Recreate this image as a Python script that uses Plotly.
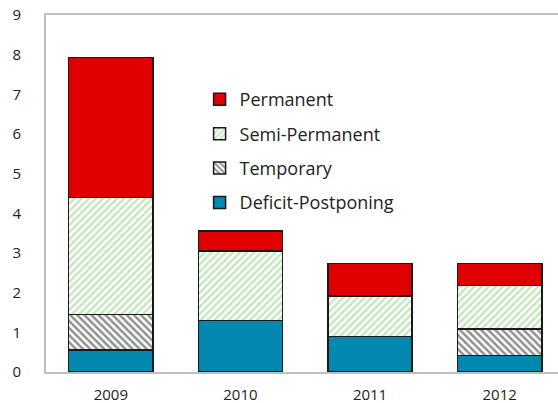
import plotly.graph_objects as go

years = ["2009", "2010", "2011", "2012"]
deficit_postponing = [0.55, 1.30, 0.90, 0.42]
temporary = [0.90, 0.00, 0.00, 0.66]
semi_permanent = [2.95, 1.75, 1.02, 1.10]
permanent = [3.53, 0.50, 0.81, 0.55]

font = "Open Sans, Noto Sans, DejaVu Sans, sans-serif"
outline = dict(color="#1a1a1a", width=1.5)

fig = go.Figure()
fig.add_bar(x=years, y=deficit_postponing, name="Deficit-Postponing", legendrank=4,
            legendgroup="d", marker=dict(color="#0088AE", line=outline))
fig.add_bar(x=years, y=temporary, name="Temporary", legendrank=3, legendgroup="t",
            marker=dict(color="white", line=outline,
                        pattern=dict(shape="\\", fgcolor="#222222", bgcolor="white",
                                     size=5, solidity=0.5)))
fig.add_bar(x=years, y=semi_permanent, name="Semi-Permanent", legendrank=2, legendgroup="s",
            marker=dict(color="white", line=outline,
                        pattern=dict(shape="/", fgcolor="#93CC82", bgcolor="white",
                                     size=5, solidity=0.5)))
fig.add_bar(x=years, y=permanent, name="Permanent", legendrank=1, legendgroup="p",
            marker=dict(color="#E00000", line=outline))

fig.update_layout(
    barmode="stack",
    bargap=0.35,
    width=558, height=403,
    margin=dict(l=46, r=0, t=15, b=31),
    plot_bgcolor="white", paper_bgcolor="white",
    font=dict(family=font, size=15, color="#222222"),
    legend=dict(x=0.3, y=0.815, xanchor="left", yanchor="top",
                traceorder="grouped", tracegroupgap=8,
                bgcolor="rgba(0,0,0,0)", font=dict(size=18)),
    xaxis=dict(type="category", range=[-0.5, 3.45], showline=True, linecolor="#BFBFBF",
               linewidth=2, mirror=True, ticks="", ticklabelstandoff=8),
    yaxis=dict(range=[0, 9], dtick=1, showgrid=False, zeroline=False, showline=True,
               linecolor="#BFBFBF", linewidth=2, ticks="", ticklabelstandoff=20),
)

fig.write_html("out.html", config={"displayModeBar": False},
               post_script="document.body.style.margin='0';")
